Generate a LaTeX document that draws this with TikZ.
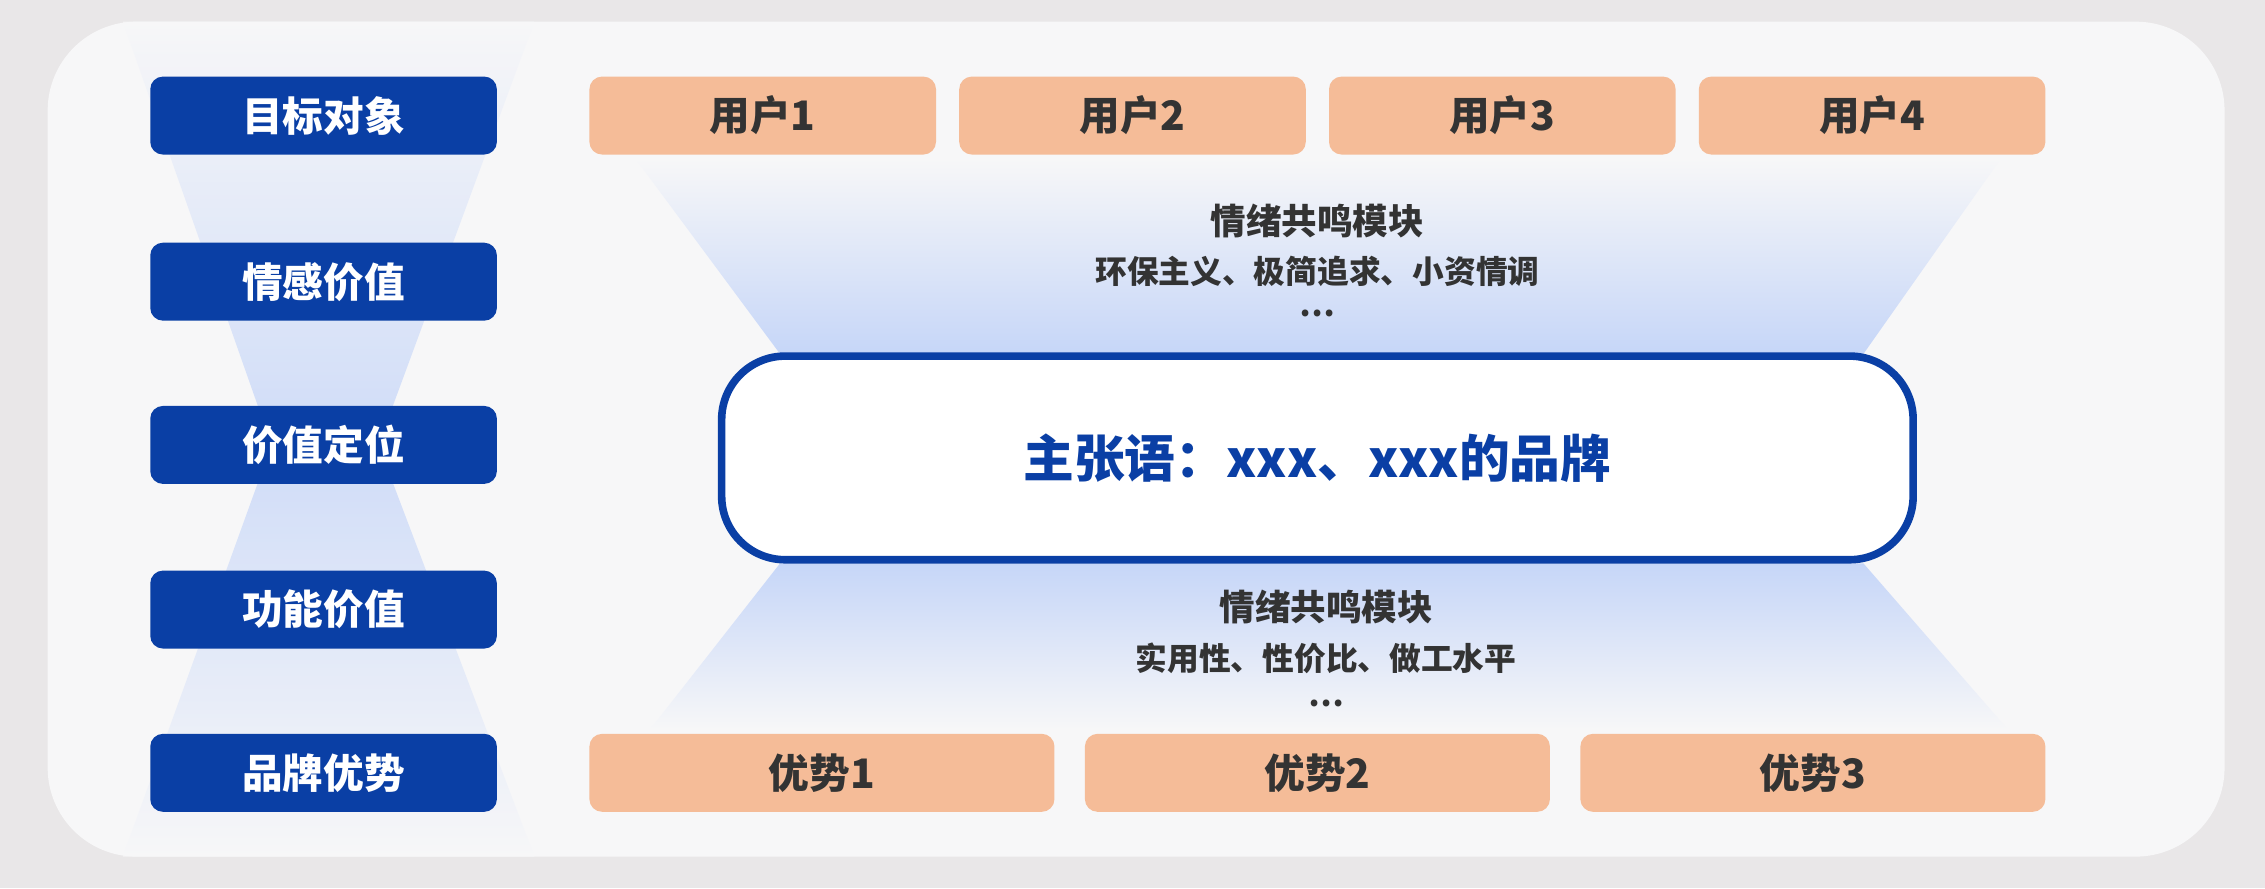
\documentclass[tikz,border=0pt]{standalone}
\usepackage{fontspec}
\setmainfont{Noto Sans CJK SC}
\usetikzlibrary{positioning}
\definecolor{bgray}{HTML}{E9E7E8}
\definecolor{cardbg}{HTML}{F7F7F8}
\definecolor{navy}{HTML}{0A3FA5}
\definecolor{peach}{HTML}{F5BC98}
\definecolor{txtdark}{HTML}{333333}
\definecolor{glow}{HTML}{C6D6F8}
\tikzset{
  label/.style={rectangle, rounded corners=5pt, fill=navy, text=white,
    minimum width=4.8cm, minimum height=1.08cm, font=\fontsize{16}{18}\selectfont\bfseries},
  user/.style={rectangle, rounded corners=5pt, fill=peach, text=txtdark,
    minimum width=4.8cm, minimum height=1.08cm, font=\fontsize{16}{18}\selectfont\bfseries},
  gain/.style={user, minimum width=6.44cm},
  module/.style={text=txtdark, font=\fontsize{14}{16}\selectfont\bfseries},
  detail/.style={text=txtdark, font=\fontsize{12.5}{14}\selectfont\bfseries}
}
\begin{document}
\begin{tikzpicture}[x=0.02cm, y=-0.02cm]
  \useasboundingbox (0,0) rectangle (1568,615);
  \fill[bgray] (0,0) rectangle (1568,615);
  \fill[cardbg, rounded corners=35] (33,15) rectangle (1540,593);

  % hourglass glow behind labels
  \shade[top color=cardbg, bottom color=glow, fill opacity=0.8]
    (85,15) -- (370,15) -- (262,308) -- (188,308) -- cycle;
  \shade[top color=glow, bottom color=cardbg, fill opacity=0.8]
    (188,308) -- (262,308) -- (370,593) -- (85,593) -- cycle;

  % glow above and below the claim
  \shade[top color=cardbg, bottom color=glow]
    (440,110) -- (1385,110) -- (1290,245) -- (540,245) -- cycle;
  \shade[top color=glow, bottom color=cardbg]
    (540,390) -- (1290,390) -- (1390,505) -- (450,505) -- cycle;

  % left labels
  \node[label] (l1) at (224,80) {目标对象};
  \node[label] (l2) at (224,195) {情感价值};
  \node[label] (l3) at (224,308) {价值定位};
  \node[label] (l4) at (224,422) {功能价值};
  \node[label] (l5) at (224,535) {品牌优势};

  % users
  \node[user] (u1) at (528,80) {用户1};
  \node[user] (u2) at (784,80) {用户2};
  \node[user] (u3) at (1040,80) {用户3};
  \node[user] (u4) at (1296,80) {用户4};

  % advantages
  \node[gain] (g1) at (569,535) {优势1};
  \node[gain] (g2) at (912,535) {优势2};
  \node[gain] (g3) at (1255,535) {优势3};

  % claim
  \node[rectangle, rounded corners=25, draw=navy, line width=3pt, fill=white,
    minimum width=16.5cm, minimum height=2.82cm, text=navy,
    font=\fontsize{20}{24}\selectfont\bfseries] (claim) at (912,317) {主张语：xxx、xxx的品牌};

  \node[module] (m1) at (912,153) {情绪共鸣模块};
  \node[detail] (d1) at (912,188) {环保主义、极简追求、小资情调};
  \node[detail] (e1) at (912,217) {…};
  \node[module] (m2) at (918,420) {情绪共鸣模块};
  \node[detail] (d2) at (918,456) {实用性、性价比、做工水平};
  \node[detail] (e2) at (918,487) {…};
\end{tikzpicture}
\end{document}
